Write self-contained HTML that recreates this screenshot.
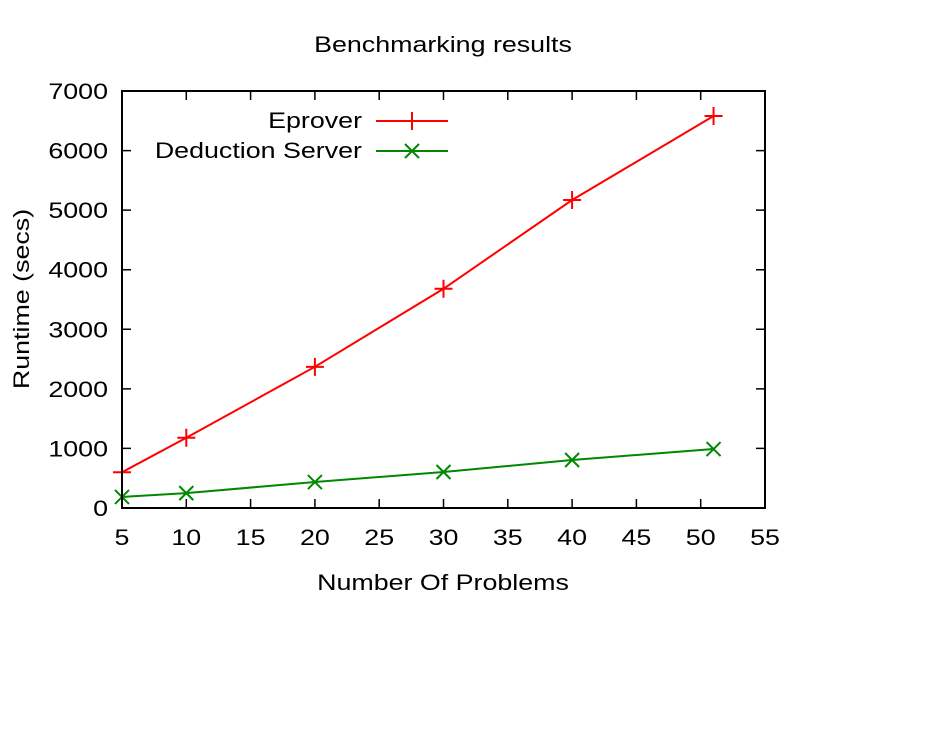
<!DOCTYPE html>
<html><head><meta charset="utf-8"><style>
body{margin:0;background:#fff}
svg text{font-family:"Liberation Sans",sans-serif;font-size:22px;fill:#000}
</style></head><body>
<svg id="chart" width="948" height="746" xmlns="http://www.w3.org/2000/svg">
<text transform="translate(443,52) scale(1.22,1)" text-anchor="middle">Benchmarking results</text>
<text transform="translate(443,590) scale(1.22,1)" text-anchor="middle">Number Of Problems</text>
<text transform="translate(29,299) rotate(-90) scale(1.22,1)" text-anchor="middle">Runtime (secs)</text>
<g id="axes"></g>
<g id="series"></g>
<rect x="122" y="91" width="643" height="417" fill="none" stroke="#000" stroke-width="2"/>
<g>
<text transform="translate(362,128) scale(1.22,1)" text-anchor="end">Eprover</text>
<line x1="376" y1="121" x2="448" y2="121" stroke="#f00" stroke-width="2"/>
<path d="M403 121h18M412 112v18" stroke="#f00" stroke-width="2"/>
<text transform="translate(362,158) scale(1.22,1)" text-anchor="end">Deduction Server</text>
<line x1="376" y1="151" x2="448" y2="151" stroke="#080" stroke-width="2"/>
<path d="M405 144l14 14M419 144l-14 14" stroke="#080" stroke-width="2"/>
</g>
</svg>
<script>
const xValues=[5,10,20,30,40,51];
const eprover=[600,1180,2370,3680,5170,6580];
const deduction=[185,250,436,604,806,990];
const xTicks=[5,10,15,20,25,30,35,40,45,50,55];
const yTicks=[0,1000,2000,3000,4000,5000,6000,7000];
const L=122,R=765,T=91,B=508;
const xs=v=>L+(v-5)/50*(R-L);
const ys=v=>B-v/7000*(B-T);
const NS="http://www.w3.org/2000/svg";
const axes=document.getElementById('axes'),ser=document.getElementById('series');
function mk(t,a,p){const e=document.createElementNS(NS,t);for(const k in a)e.setAttribute(k,a[k]);p.appendChild(e);return e;}
xTicks.forEach(v=>{const x=xs(v);
const l=mk('path',{d:`M${x} ${B}v-9M${x} ${T}v9`,stroke:'#000','stroke-width':1.5},axes);


const t=mk('text',{transform:`translate(${x},${B+37}) scale(1.22,1)`,'text-anchor':'middle'},axes);t.textContent=v;

});
yTicks.forEach(v=>{const y=ys(v);
const l=mk('path',{d:`M${L} ${y}h9M${R} ${y}h-9`,stroke:'#000','stroke-width':1.5},axes);


const t=mk('text',{transform:`translate(${L-14},${y+8}) scale(1.22,1)`,'text-anchor':'end'},axes);t.textContent=v;

});
function draw(vals,color,name,plus){
const pl=mk('polyline',{points:vals.map((v,i)=>xs(xValues[i])+','+ys(v)).join(' '),fill:'none',stroke:color,'stroke-width':2},ser);


vals.forEach((v,i)=>{const x=xs(xValues[i]),y=ys(v);
const d=plus?`M${x-9} ${y}h18M${x} ${y-9}v18`:`M${x-7} ${y-7}l14 14M${x+7} ${y-7}l-14 14`;
const p=mk('path',{d:d,stroke:color,'stroke-width':2},ser);

});}
draw(eprover,'#f00','eprover',true);
draw(deduction,'#080','deduction-server',false);
</script>
</body></html>
